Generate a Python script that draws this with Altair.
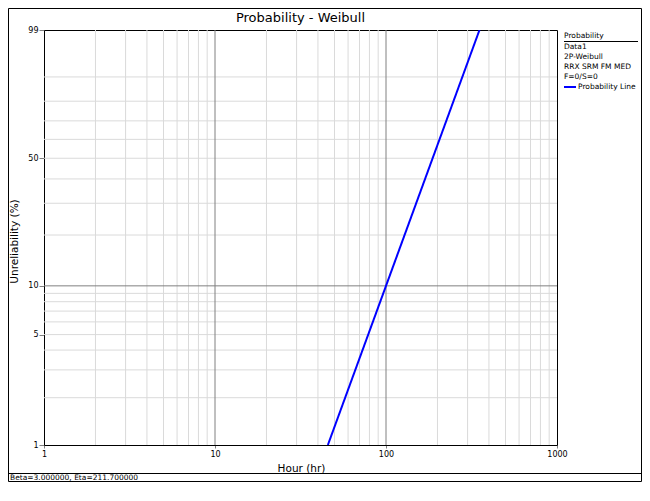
import math
import altair as alt
import pandas as pd

# ---- data ----
line_hours = [45.7, 352.2]          # Hour (hr) at the two ends of the probability line
line_unrel = [1, 99]                # Unreliability (%) at those ends
x_tick_values = [1, 10, 100, 1000]
x_major_grid = [10, 100]
x_minor_grid = [2, 3, 4, 5, 6, 7, 8, 9, 20, 30, 40, 50, 60, 70, 80, 90,
                200, 300, 400, 500, 600, 700, 800, 900]
y_tick_values = [1, 5, 10, 50, 99]
y_major_grid = [10]
y_minor_grid = [2, 3, 4, 5, 6, 7, 8, 9, 20, 30, 40, 50, 60, 70, 80, 90]
legend_header = ["Probability"]
legend_lines = ["Data1", "2P-Weibull", "RRX SRM FM MED", "F=0/S=0"]
legend_series = ["Probability Line"]
status_text = ["Beta=3.000000, Eta=211.700000"]
chart_title = ["Probability - Weibull"]

FONT = "DejaVu Sans"
PW, PH = 513, 415


def wb(p):
    """Weibull probability-paper transform of a percentage."""
    return math.log(-math.log(1 - p / 100.0))


W_EXPR = "log(-log(1 - datum.F/100))"

xscale = alt.Scale(type="log", domain=[1, 1000], nice=False)
yscale = alt.Scale(type="linear", domain=[wb(1), wb(99)], nice=False, zero=False)

xaxis = alt.Axis(
    values=x_tick_values, format="d", title="Hour (hr)", grid=False,
    tickSize=3, tickColor="#808080", domainColor="black", domainWidth=1,
    labelFontSize=8, labelColor="black", labelPadding=2, labelFlush=False,
    titleFontSize=10.5, titleFontWeight="normal", titleColor="black",
    titleX=257, titleY=23, titleBaseline="middle", titleAlign="center",
)
yaxis = alt.Axis(
    values=[wb(v) for v in y_tick_values],
    labelExpr="format(100*(1-exp(-exp(datum.value))), '.0f')",
    title="Unreliability (%)", grid=False,
    tickSize=5, tickColor="#808080", domainColor="black", domainWidth=1,
    labelFontSize=8, labelColor="black", labelPadding=1, labelFlush=False,
    titleFontSize=10.5, titleFontWeight="normal", titleColor="black",
    titleX=-30, titleY=211, titleAngle=270, titleBaseline="middle", titleAlign="center",
)

X = alt.X("t:Q", scale=xscale, axis=xaxis)
Y = alt.Y("w:Q", scale=yscale, axis=yaxis)

x_minor = alt.Chart(pd.DataFrame({"t": x_minor_grid})).mark_rule(
    color="#dadada", strokeWidth=1).encode(x=X)
y_minor = alt.Chart(pd.DataFrame({"F": y_minor_grid})).transform_calculate(
    w=W_EXPR).mark_rule(color="#dadada", strokeWidth=1).encode(y=Y)
x_major = alt.Chart(pd.DataFrame({"t": x_major_grid})).mark_rule(
    color="#808080", strokeWidth=1).encode(x=X)
y_major = alt.Chart(pd.DataFrame({"F": y_major_grid})).transform_calculate(
    w=W_EXPR).mark_rule(color="#808080", strokeWidth=1).encode(y=Y)

prob_line = alt.Chart(pd.DataFrame({"t": line_hours, "F": line_unrel})).transform_calculate(
    w=W_EXPR).mark_line(color="#0000ff", strokeWidth=2, clip=True).encode(x=X, y=Y)

# ---- title ----
title = alt.Chart(pd.DataFrame({"txt": chart_title})).mark_text(
    align="center", baseline="middle", fontSize=13, font=FONT, color="black").encode(
    text="txt:N", x=alt.value(PW / 2), y=alt.value(-12))

# ---- legend (right side) ----
LX = 520
leg_head = alt.Chart(pd.DataFrame({"txt": legend_header})).mark_text(
    align="left", baseline="middle", fontSize=7.5, font=FONT, color="black").encode(
    text="txt:N", x=alt.value(LX), y=alt.value(6))
leg_underline = alt.Chart(pd.DataFrame({"txt": legend_header})).mark_rule(
    color="black", strokeWidth=1).encode(
    x=alt.value(LX), x2=alt.value(594), y=alt.value(11.5))
leg_body = alt.Chart(pd.DataFrame({"txt": ["\n".join(legend_lines)]})).mark_text(
    align="left", baseline="middle", fontSize=7.5, font=FONT, color="black",
    lineBreak="\n", lineHeight=10).encode(
    text="txt:N", x=alt.value(LX), y=alt.value(17))
leg_swatch = alt.Chart(pd.DataFrame({"txt": legend_series})).mark_rule(
    color="#0000ff", strokeWidth=2).encode(
    x=alt.value(LX), x2=alt.value(LX + 12), y=alt.value(57))
leg_series = alt.Chart(pd.DataFrame({"txt": legend_series})).mark_text(
    align="left", baseline="middle", fontSize=7.5, font=FONT, color="black").encode(
    text="txt:N", x=alt.value(LX + 14), y=alt.value(57))

# ---- status bar and outer frame ----
status_rule = alt.Chart(pd.DataFrame({"txt": status_text})).mark_rule(
    color="black", strokeWidth=1).encode(
    x=alt.value(-36), x2=alt.value(598), y=alt.value(443.5))
status = alt.Chart(pd.DataFrame({"txt": status_text})).mark_text(
    align="left", baseline="middle", fontSize=7.5, font=FONT, color="black").encode(
    text="txt:N", x=alt.value(-34), y=alt.value(448))
frame = alt.Chart(pd.DataFrame({"txt": status_text})).mark_rect(
    fillOpacity=0, stroke="black", strokeWidth=1).encode(
    x=alt.value(-35.5), x2=alt.value(597.5), y=alt.value(-21.5), y2=alt.value(451.5))

chart = alt.layer(
    x_minor, y_minor, x_major, y_major, prob_line, title,
    leg_head, leg_underline, leg_body, leg_swatch, leg_series,
    status_rule, status, frame,
).properties(
    width=PW, height=PH,
    autosize=alt.AutoSizeParams(type="none"),
    padding={"left": 36, "top": 22, "right": 85, "bottom": 37},
).configure(
    font=FONT, background="white",
).configure_view(
    stroke="black", strokeWidth=1,
)

chart.save("out.html", embed_options={"renderer": "svg", "actions": False})
